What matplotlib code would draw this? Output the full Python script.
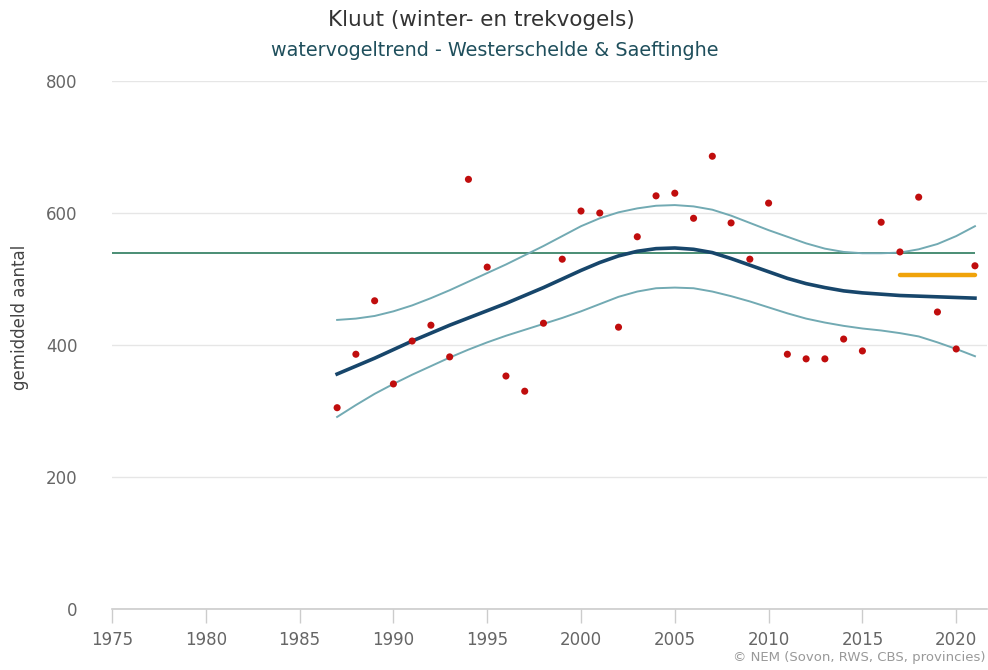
import matplotlib
matplotlib.use("Agg")
import matplotlib.pyplot as plt

# ---- data ----
point_years = list(range(1987, 2022))
point_values = [305, 386, 467, 341, 406, 430, 382, 651, 518, 353, 330, 433, 530, 603,
                600, 427, 564, 626, 630, 592, 686, 585, 530, 615, 386, 379, 379, 409,
                391, 586, 541, 624, 450, 394, 520]

trend_years = list(range(1987, 2022))
trend_values = [356, 368, 380, 393, 406, 418, 430, 441, 452, 463, 475, 487, 500, 513,
                525, 535, 542, 546, 547, 545, 540, 531, 521, 511, 501, 493, 487, 482,
                479, 477, 475, 474, 473, 472, 471]
upper_values = [438, 440, 444, 451, 460, 471, 483, 496, 509, 522, 536, 550, 565, 580,
                592, 601, 607, 611, 612, 610, 605, 596, 585, 574, 564, 554, 546, 541,
                539, 539, 540, 545, 553, 565, 580]
lower_values = [291, 309, 326, 341, 355, 368, 381, 393, 404, 414, 423, 432, 441, 451,
                462, 473, 481, 486, 487, 486, 481, 474, 466, 457, 448, 440, 434, 429,
                425, 422, 418, 413, 404, 394, 383]

reference_level = 540
reference_span = [1975, 2021]
recent_years = [2017, 2021]
recent_mean = [506, 506]

x_ticks = [1975, 1980, 1985, 1990, 1995, 2000, 2005, 2010, 2015, 2020]
y_ticks = [0, 200, 400, 600, 800]

title = "Kluut (winter- en trekvogels)"
subtitle = "watervogeltrend - Westerschelde & Saeftinghe"
y_label = "gemiddeld aantal"
credits = "© NEM (Sovon, RWS, CBS, provincies)"

# ---- figure ----
plt.rcParams['font.family'] = ['DejaVu Sans']
fig = plt.figure(figsize=(9.88, 6.70), dpi=100)
ax = fig.add_axes([112 / 988, 61 / 670, 875 / 988, 528 / 670])

ax.set_xlim(1975, 1975 + 875 / 18.76)
ax.set_ylim(0, 800)

ax.hlines(reference_level, reference_span[0], reference_span[1],
          color="#2b7a5c", lw=1.2, zorder=2)
ax.plot(trend_years, upper_values, color="#72aab3", lw=1.4, zorder=3)
ax.plot(trend_years, lower_values, color="#72aab3", lw=1.4, zorder=3)
ax.plot(trend_years, trend_values, color="#17466b", lw=2.6, zorder=4)
ax.plot(recent_years, recent_mean, color="#f0a30a", lw=3.2, zorder=4,
        solid_capstyle="round")
ax.scatter(point_years, point_values, s=26, color="#c00d0d", zorder=5,
           edgecolors="none")

ax.set_yticks(y_ticks)
ax.set_xticks(x_ticks)
ax.yaxis.grid(True, color="#e6e6e6", lw=1)
ax.set_axisbelow(True)
for s in ["top", "right", "left"]:
    ax.spines[s].set_visible(False)
ax.spines["bottom"].set_color("#cccccc")
ax.spines["bottom"].set_linewidth(1.2)
ax.tick_params(axis="y", length=0, pad=25, labelsize=12, labelcolor="#666666")
ax.tick_params(axis="x", length=10, width=1, color="#cccccc", pad=6,
               labelsize=12, labelcolor="#666666")

fig.text(481 / 988, 1 - 20 / 670, title, ha="center", va="center",
         fontsize=15.5, color="#333333")
fig.text(495 / 988, 1 - 51 / 670, subtitle, ha="center", va="center",
         fontsize=13.8, color="#1f4f5c")
fig.text(20 / 988, 1 - 317 / 670, y_label, rotation=90, ha="center", va="center",
         fontsize=12, color="#444444")
fig.text(985 / 988, 1 - 657 / 670, credits, ha="right", va="center",
         fontsize=9.5, color="#999999")

fig.savefig("out.png", dpi=100)
